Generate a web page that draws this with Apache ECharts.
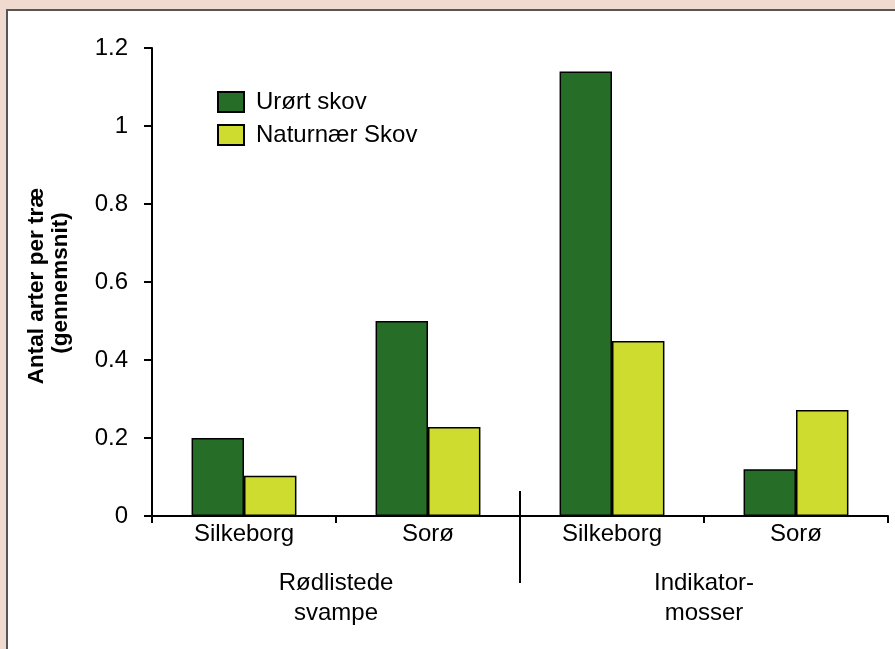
<!DOCTYPE html>
<html>
<head>
<meta charset="utf-8">
<script src="https://cdn.jsdelivr.net/npm/echarts@6/dist/echarts.min.js"></script>
<style>
html,body{margin:0;padding:0;background:#f0d9cf;}
#main{width:895px;height:649px;}
</style>
</head>
<body>
<div id="main"></div>
<script>
var categories = ['Silkeborg', 'Sorø', 'Silkeborg', 'Sorø'];
var groups = ['Rødlistede\nsvampe', 'Indikator-\nmosser'];
var seriesNames = ['Urørt skov', 'Naturnær Skov'];
var urortSkov = [0.2, 0.5, 1.14, 0.12];
var naturnaerSkov = [0.103, 0.228, 0.449, 0.272];
var yTicks = { min: 0, max: 1.2, interval: 0.2 };
var yName = ['Antal arter per træ', '(gennemsnit)'];

var FONT = 'Liberation Sans, Arial, sans-serif';
var FS = 24;
var chart = echarts.init(document.getElementById('main'));
var option = {
  backgroundColor: '#f0d9cf',
  animation: false,
  textStyle: { fontFamily: FONT },
  grid: { left: 152, right: 7, top: 48, bottom: 133 },
  legend: {
    orient: 'vertical',
    left: 212, top: 85,
    itemWidth: 26, itemHeight: 20, itemGap: 9,
    icon: 'rect',
    textStyle: { fontSize: FS, lineHeight: 20, color: '#000', fontFamily: FONT, padding: [0, 0, 0, 7] },
    data: seriesNames
  },
  xAxis: [{
    type: 'category',
    data: categories,
    axisLine: { lineStyle: { color: '#000', width: 2 } },
    axisTick: { show: true, length: 7, lineStyle: { color: '#000', width: 2 } },
    axisLabel: { color: '#000', fontSize: FS, margin: 6, fontFamily: FONT }
  }, {
    type: 'category',
    data: groups,
    position: 'bottom',
    axisLine: { show: false },
    axisTick: { show: false },
    axisLabel: { color: '#000', fontSize: FS, lineHeight: 30, margin: 52, fontFamily: FONT }
  }],
  yAxis: {
    type: 'value',
    min: yTicks.min, max: yTicks.max, interval: yTicks.interval,
    axisLine: { show: true, lineStyle: { color: '#000', width: 2 } },
    axisTick: { show: true, length: 8, lineStyle: { color: '#000', width: 2 } },
    splitLine: { show: false },
    axisLabel: { color: '#000', fontSize: FS, margin: 24, fontFamily: FONT }
  },
  series: [{
    name: seriesNames[0], type: 'bar', data: urortSkov,
    barGap: 0, barCategoryGap: '43%',
    itemStyle: { color: '#266d27', borderColor: '#000', borderWidth: 1.5 }
  }, {
    name: seriesNames[1], type: 'bar', data: naturnaerSkov,
    barGap: 0, barCategoryGap: '43%',
    itemStyle: { color: '#cddc2e', borderColor: '#000', borderWidth: 1.5 }
  }]
};
chart.setOption(option);

var x1 = chart.convertToPixel({ xAxisIndex: 0 }, 1);
var x2 = chart.convertToPixel({ xAxisIndex: 0 }, 2);
var y0 = chart.convertToPixel({ yAxisIndex: 0 }, 0);
var midX = Math.round((x1 + x2) / 2);
var yMid = chart.convertToPixel({ yAxisIndex: 0 }, 0.6);

chart.setOption({
  graphic: [{
    type: 'rect', z: -10, silent: true,
    shape: { x: 7, y: 10, width: 900, height: 660 },
    style: { fill: '#fff', stroke: '#555', lineWidth: 2 }
  }, {
    type: 'line', z: 10, silent: true,
    shape: { x1: midX, y1: y0 - 25, x2: midX, y2: y0 + 67 },
    style: { stroke: '#000', lineWidth: 2 }
  }, {
    type: 'text', silent: true,
    x: 37, y: yMid + 4, rotation: Math.PI / 2,
    style: { text: yName[0], fontSize: 22.5, fontWeight: 'bold', fontFamily: FONT, fill: '#000', align: 'center', verticalAlign: 'middle' }
  }, {
    type: 'text', silent: true,
    x: 61, y: yMid + 1, rotation: Math.PI / 2,
    style: { text: yName[1], fontSize: 22.5, fontWeight: 'bold', fontFamily: FONT, fill: '#000', align: 'center', verticalAlign: 'middle' }
  }]
});
</script>
</body>
</html>
